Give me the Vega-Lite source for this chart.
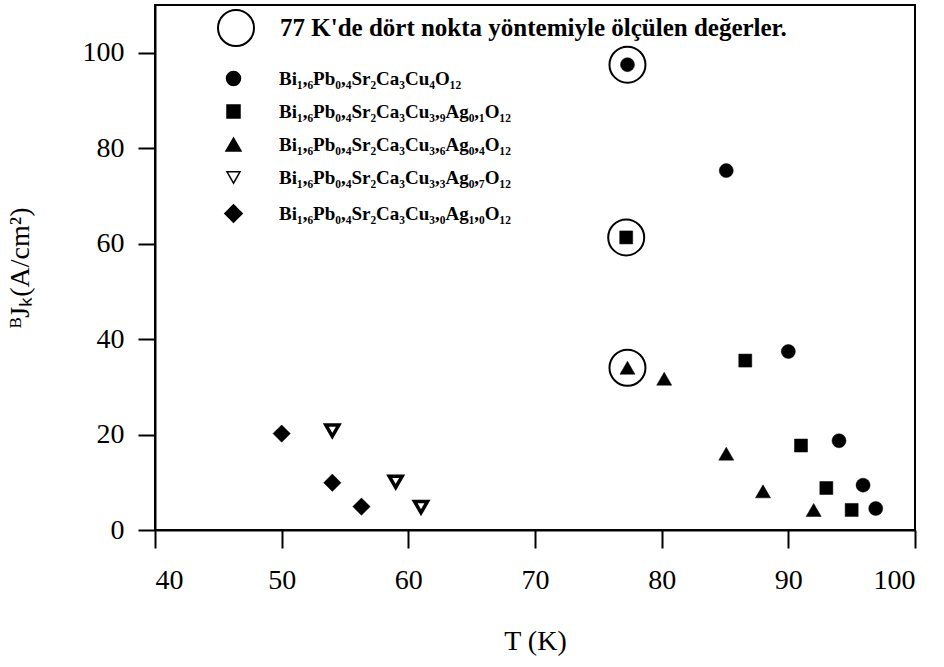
{
  "$schema": "https://vega.github.io/schema/vega-lite/v6.json",
  "width": 760,
  "height": 525,
  "autosize": {"type": "none"},
  "padding": {"left": 155, "top": 5, "right": 29, "bottom": 137},
  "background": "white",
  "config": {
    "view": {"stroke": "black", "strokeWidth": 2},
    "font": "Liberation Serif",
    "axis": {
      "grid": false,
      "domainColor": "black",
      "domainWidth": 2,
      "tickColor": "black",
      "tickWidth": 2,
      "labelColor": "black",
      "labelFont": "Liberation Serif",
      "labelFontSize": 28,
      "titleFont": "Liberation Serif",
      "titleFontSize": 28,
      "titleFontWeight": "normal",
      "titleColor": "black"
    }
  },
  "datasets": {
    "points": [
      {"series": "Bi₁,₆Pb₀,₄Sr₂Ca₃Cu₄O₁₂", "T": 77.3, "J": 97.5},
      {"series": "Bi₁,₆Pb₀,₄Sr₂Ca₃Cu₄O₁₂", "T": 85.1, "J": 75.3},
      {"series": "Bi₁,₆Pb₀,₄Sr₂Ca₃Cu₄O₁₂", "T": 90.0, "J": 37.4},
      {"series": "Bi₁,₆Pb₀,₄Sr₂Ca₃Cu₄O₁₂", "T": 94.0, "J": 18.7},
      {"series": "Bi₁,₆Pb₀,₄Sr₂Ca₃Cu₄O₁₂", "T": 95.9, "J": 9.4},
      {"series": "Bi₁,₆Pb₀,₄Sr₂Ca₃Cu₄O₁₂", "T": 96.9, "J": 4.5},
      {"series": "Bi₁,₆Pb₀,₄Sr₂Ca₃Cu₃,₉Ag₀,₁O₁₂", "T": 77.2, "J": 61.3},
      {"series": "Bi₁,₆Pb₀,₄Sr₂Ca₃Cu₃,₉Ag₀,₁O₁₂", "T": 86.6, "J": 35.5},
      {"series": "Bi₁,₆Pb₀,₄Sr₂Ca₃Cu₃,₉Ag₀,₁O₁₂", "T": 91.0, "J": 17.7},
      {"series": "Bi₁,₆Pb₀,₄Sr₂Ca₃Cu₃,₉Ag₀,₁O₁₂", "T": 93.0, "J": 8.8},
      {"series": "Bi₁,₆Pb₀,₄Sr₂Ca₃Cu₃,₉Ag₀,₁O₁₂", "T": 95.0, "J": 4.2},
      {"series": "Bi₁,₆Pb₀,₄Sr₂Ca₃Cu₃,₆Ag₀,₄O₁₂", "T": 77.3, "J": 34.0},
      {"series": "Bi₁,₆Pb₀,₄Sr₂Ca₃Cu₃,₆Ag₀,₄O₁₂", "T": 80.2, "J": 31.7},
      {"series": "Bi₁,₆Pb₀,₄Sr₂Ca₃Cu₃,₆Ag₀,₄O₁₂", "T": 85.1, "J": 16.0},
      {"series": "Bi₁,₆Pb₀,₄Sr₂Ca₃Cu₃,₆Ag₀,₄O₁₂", "T": 88.0, "J": 8.1},
      {"series": "Bi₁,₆Pb₀,₄Sr₂Ca₃Cu₃,₆Ag₀,₄O₁₂", "T": 92.0, "J": 4.2},
      {"series": "Bi₁,₆Pb₀,₄Sr₂Ca₃Cu₃,₃Ag₀,₇O₁₂", "T": 54.0, "J": 20.8},
      {"series": "Bi₁,₆Pb₀,₄Sr₂Ca₃Cu₃,₃Ag₀,₇O₁₂", "T": 59.0, "J": 10.1},
      {"series": "Bi₁,₆Pb₀,₄Sr₂Ca₃Cu₃,₃Ag₀,₇O₁₂", "T": 61.0, "J": 4.8},
      {"series": "Bi₁,₆Pb₀,₄Sr₂Ca₃Cu₃,₀Ag₁,₀O₁₂", "T": 50.0, "J": 20.2},
      {"series": "Bi₁,₆Pb₀,₄Sr₂Ca₃Cu₃,₀Ag₁,₀O₁₂", "T": 54.0, "J": 9.9},
      {"series": "Bi₁,₆Pb₀,₄Sr₂Ca₃Cu₃,₀Ag₁,₀O₁₂", "T": 56.3, "J": 4.9}
    ],
    "circled": [
      {"note": "77 K'de dört nokta yöntemiyle ölçülen değerler.", "T": 77.3, "J": 97.5},
      {"note": "77 K'de dört nokta yöntemiyle ölçülen değerler.", "T": 77.2, "J": 61.3},
      {"note": "77 K'de dört nokta yöntemiyle ölçülen değerler.", "T": 77.3, "J": 34.0}
    ]
  },
  "layer": [
    {
      "data": {"name": "points"},
      "mark": {"type": "point", "filled": true, "stroke": "black", "opacity": 1},
      "encoding": {
        "x": {
          "field": "T", "type": "quantitative",
          "scale": {"domain": [40, 100], "nice": false, "zero": false},
          "axis": {"values": [40, 50, 60, 70, 80, 90, 100], "tickSize": 18, "labelPadding": 18, "titlePadding": 33},
          "title": "T (K)"
        },
        "y": {
          "field": "J", "type": "quantitative",
          "scale": {"domain": [0, 110], "nice": false},
          "axis": {"values": [0, 20, 40, 60, 80, 100], "tickSize": 17, "labelPadding": 14, "titlePadding": 48},
          "title": "ᴮJₖ(A/cm²)"
        },
        "shape": {
          "field": "series", "type": "nominal",
          "scale": {
            "domain": ["Bi₁,₆Pb₀,₄Sr₂Ca₃Cu₄O₁₂", "Bi₁,₆Pb₀,₄Sr₂Ca₃Cu₃,₉Ag₀,₁O₁₂", "Bi₁,₆Pb₀,₄Sr₂Ca₃Cu₃,₆Ag₀,₄O₁₂", "Bi₁,₆Pb₀,₄Sr₂Ca₃Cu₃,₃Ag₀,₇O₁₂", "Bi₁,₆Pb₀,₄Sr₂Ca₃Cu₃,₀Ag₁,₀O₁₂"],
            "range": ["circle", "square", "triangle-up", "triangle-down", "diamond"]
          },
          "legend": {
            "orient": "none", "legendX": 69, "legendY": 64, "title": null, "padding": 0,
            "labelFont": "Liberation Serif", "labelFontSize": 19, "labelFontWeight": "bold", "labelColor": "black", "labelLimit": 500,
            "labelOffset": 36, "rowPadding": 13, "symbolStrokeColor": "black",
            "encode": {"symbols": {"update": {"stroke": {"value": "black"}, "strokeWidth": {"signal": "datum.value === 'Bi₁,₆Pb₀,₄Sr₂Ca₃Cu₃,₃Ag₀,₇O₁₂' ? 3.5 : 0.5"}}}}
          }
        },
        "fill": {
          "field": "series", "type": "nominal",
          "scale": {
            "domain": ["Bi₁,₆Pb₀,₄Sr₂Ca₃Cu₄O₁₂", "Bi₁,₆Pb₀,₄Sr₂Ca₃Cu₃,₉Ag₀,₁O₁₂", "Bi₁,₆Pb₀,₄Sr₂Ca₃Cu₃,₆Ag₀,₄O₁₂", "Bi₁,₆Pb₀,₄Sr₂Ca₃Cu₃,₃Ag₀,₇O₁₂", "Bi₁,₆Pb₀,₄Sr₂Ca₃Cu₃,₀Ag₁,₀O₁₂"],
            "range": ["black", "black", "black", "white", "black"]
          }
        },
        "size": {
          "field": "series", "type": "nominal",
          "scale": {
            "type": "ordinal",
            "domain": ["Bi₁,₆Pb₀,₄Sr₂Ca₃Cu₄O₁₂", "Bi₁,₆Pb₀,₄Sr₂Ca₃Cu₃,₉Ag₀,₁O₁₂", "Bi₁,₆Pb₀,₄Sr₂Ca₃Cu₃,₆Ag₀,₄O₁₂", "Bi₁,₆Pb₀,₄Sr₂Ca₃Cu₃,₃Ag₀,₇O₁₂", "Bi₁,₆Pb₀,₄Sr₂Ca₃Cu₃,₀Ag₁,₀O₁₂"],
            "range": [196, 169, 225, 169, 300]
          }
        },
        "strokeWidth": {
          "condition": {"test": "datum.series === 'Bi₁,₆Pb₀,₄Sr₂Ca₃Cu₃,₃Ag₀,₇O₁₂'", "value": 3.5},
          "value": 0.5
        }
      }
    },
    {
      "data": {"name": "circled"},
      "mark": {"type": "point", "filled": false, "size": 1296, "strokeWidth": 2, "opacity": 1},
      "encoding": {
        "x": {"field": "T", "type": "quantitative"},
        "y": {"field": "J", "type": "quantitative"},
        "color": {
          "field": "note", "type": "nominal",
          "scale": {"range": ["black"]},
          "legend": {
            "orient": "none", "legendX": 62, "legendY": 4, "title": null, "padding": 0,
            "labelFont": "Liberation Serif", "labelFontSize": 25, "labelFontWeight": "bold", "labelColor": "black", "labelLimit": 800,
            "labelOffset": 25, "symbolType": "circle", "symbolSize": 1296, "symbolStrokeWidth": 2,
            "symbolFillColor": "transparent", "symbolStrokeColor": "black"
          }
        }
      }
    }
  ]
}
